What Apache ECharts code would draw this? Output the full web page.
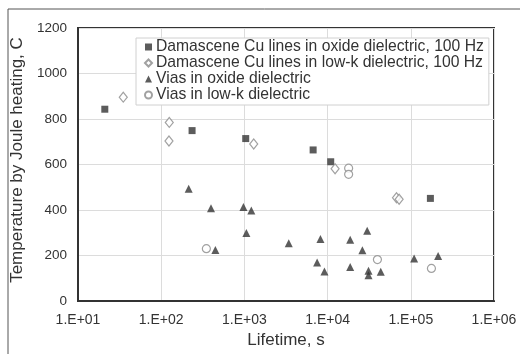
<!DOCTYPE html>
<html><head><meta charset="utf-8">
<script src="https://cdn.jsdelivr.net/npm/echarts@6/dist/echarts.min.js"></script>
<style>html,body{margin:0;padding:0;background:#fff}#c{width:520px;height:354px}</style>
</head><body><div id="c"></div>
<script>
var seriesNames = [
  'Damascene Cu lines in oxide dielectric, 100 Hz',
  'Damascene Cu lines in low-k dielectric, 100 Hz',
  'Vias in oxide dielectric',
  'Vias in low-k dielectric'
];
var cuOxide = [[21,843],[235,749],[1037,714],[6700,664],[10900,612],[172000,451]];
var cuLowk = [[35,896],[125,785],[124,703],[1294,690],[12300,581],[67300,454],[72400,447]];
var viaOxide = [[214,493],[397,408],[448,224],[973,413],[1210,398],[1057,299],[3413,254],[7480,169],[8200,272],[9160,130],[18700,269],[18700,150],[26200,223],[29900,309],[31000,133],[31000,113],[43500,129],[109600,187],[213000,198]];
var viaLowk = [[349,230],[17900,584],[17900,557],[39700,182],[177000,143]];
var xTicks = [10,100,1000,10000,100000,1000000];
var yTicks = [0,200,400,600,800,1000,1200];

var font = 'Liberation Sans, Arial, sans-serif';
var chart = echarts.init(document.getElementById('c'));
var dark = '#333';
var hollow = {color:'#fff', borderColor:'#8a8a8a', borderWidth:1.2};
chart.setOption({
  animation:false,
  graphic:[{type:'rect', shape:{x:8,y:9,width:530,height:360}, style:{fill:'none', stroke:'#555', lineWidth:1}, z:-1}],
  grid:{left:78, right:26, top:28, bottom:49, show:true, borderColor:'#333', borderWidth:2, backgroundColor:'transparent'},
  xAxis:{type:'log', logBase:10, min:xTicks[0], max:xTicks[xTicks.length-1],
    name:'Lifetime, s', nameLocation:'middle', nameGap:31,
    nameTextStyle:{fontFamily:font, fontSize:17, color:'#333'},
    axisLine:{show:true, lineStyle:{color:'#333', width:2}},
    axisTick:{show:false},
    splitLine:{show:true, lineStyle:{color:'#dcdcdc', width:1}},
    axisLabel:{fontFamily:font, fontSize:14, color:'#333', margin:12,
      formatter:function(v){var e=Math.round(Math.log10(v));return '1.E+'+(e<10?'0':'')+e;}}
  },
  yAxis:{type:'value', min:yTicks[0], max:yTicks[yTicks.length-1], interval:200,
    name:'Temperature by Joule heating, C', nameLocation:'middle', nameGap:44,
    nameTextStyle:{fontFamily:font, fontSize:17, color:'#333', padding:[0,0,0,9]},
    axisLine:{show:true, lineStyle:{color:'#333', width:2}},
    axisTick:{show:false},
    splitLine:{show:true, lineStyle:{color:'#dcdcdc', width:1}},
    axisLabel:{fontFamily:font, fontSize:13.5, color:'#333', margin:11,
      formatter:function(v){return String(v);}}
  },
  legend:{orient:'vertical', left:136, top:38, itemWidth:7, itemHeight:7, itemGap:0,
    backgroundColor:'#fff', borderColor:'#d0d0d0', borderWidth:1, padding:[1,5,2,8],
    textStyle:{fontFamily:font, fontSize:15.7, lineHeight:15, color:'#333', padding:[0,0,0,-1]},
    data:seriesNames.map(function(n){return {name:n};})
  },
  series:[
    {name:seriesNames[0], type:'scatter', symbol:'rect', symbolSize:7, data:cuOxide, itemStyle:{color:dark}},
    {name:seriesNames[1], type:'scatter', symbol:'diamond', symbolSize:[8,10], data:cuLowk, itemStyle:hollow},
    {name:seriesNames[2], type:'scatter', symbol:'triangle', symbolSize:8, data:viaOxide, itemStyle:{color:dark}},
    {name:seriesNames[3], type:'scatter', symbol:'circle', symbolSize:8, data:viaLowk, itemStyle:hollow}
  ]
});
</script></body></html>
